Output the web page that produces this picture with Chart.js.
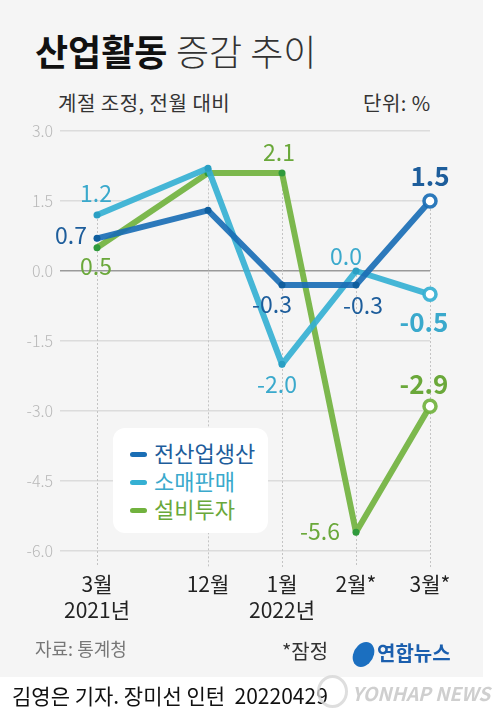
<!DOCTYPE html>
<html>
<head>
<meta charset="utf-8">
<script src="https://cdn.jsdelivr.net/npm/chart.js@4.4.1/dist/chart.umd.min.js"></script>
<style>
  body { margin: 0; background: #fff; font-family: "Noto Sans CJK KR", "Noto Sans", sans-serif; }
  #wrap { position: relative; width: 499px; height: 723px; overflow: hidden; }
  #panel { position: absolute; left: 0; top: 0; width: 483px; height: 677px; background: #f5f5f5; }
  #chart { position: absolute; left: 0; top: 0; }
  .txt { position: absolute; white-space: nowrap; line-height: 1; }
  #legend { position: absolute; left: 113px; top: 428px; width: 155px; height: 105px;
            background: #fff; border-radius: 12px; }
  .item { position: absolute; left: 17px; font-size: 22px; line-height: 1; }
  .mark { display: inline-block; width: 17px; height: 5px; border-radius: 3px; vertical-align: middle;
          margin-right: 7px; position: relative; top: -2px; }
</style>
</head>
<body>
<div id="wrap">
  <div id="panel"></div>
  <div class="txt" style="left:35px;top:32px;font-size:36px;font-weight:700;color:#111;">산업활동</div>
  <div class="txt" style="left:176px;top:32px;font-size:36px;font-weight:300;color:#333;">증감 추이</div>
  <div class="txt" style="left:58px;top:93px;font-size:20px;letter-spacing:0.5px;color:#333;">계절 조정, 전월 대비</div>
  <div class="txt" style="left:363px;top:93px;font-size:20px;letter-spacing:0.5px;color:#333;">단위: %</div>

  <canvas id="chart" width="499" height="723"></canvas>

  <div id="legend">
    <div class="item" style="top:13px;color:#1d5d9b;"><span class="mark" style="background:#1a6eb5"></span>전산업생산</div>
    <div class="item" style="top:41px;color:#3aa9cc;"><span class="mark" style="background:#35b0d3"></span>소매판매</div>
    <div class="item" style="top:69px;color:#6aa83a;"><span class="mark" style="background:#71b23e"></span>설비투자</div>
  </div>

  <div class="txt" style="left:35px;top:639px;font-size:18px;color:#777;">자료: 통계청</div>
  <div class="txt" style="left:282px;top:641px;font-size:20px;color:#333;">*잠정</div>
  <div class="txt" style="left:353px;top:642px;width:21px;height:25px;border-radius:50%;background:#1b6fc0;transform:skewX(-12deg);"></div>
  <div class="txt" style="left:377px;top:643px;font-size:20px;font-weight:700;color:#1b5fae;">연합뉴스</div>

  <div class="txt" style="left:12px;top:685px;font-size:21px;color:#111;">김영은 기자. 장미선 인턴&nbsp; 20220429</div>
  <div class="txt" style="left:317px;top:675px;width:25px;height:27px;border-radius:50%;border:3px solid #d6d6d6;opacity:0.8;"></div>
  <div class="txt" style="left:352px;top:683px;font-size:19px;font-weight:700;font-style:italic;color:#cfcfcf;">YONHAP NEWS</div>
</div>

<script>
// x positions follow the broken time axis of the original (Mar 2021 -> Dec 2021 gap)
const xPos = [0, 1.5, 2.5, 3.5, 4.5];
const months = [['3월', '2021년'], '12월', ['1월', '2022년'], '2월*', '3월*'];

const seriesNames = ['전산업생산', '소매판매', '설비투자'];
const production = [0.7, 1.3, -0.3, -0.3, 1.5];
const retail = [1.2, 2.2, -2.0, 0.0, -0.5];
const investment = [0.5, 2.1, 2.1, -5.6, -2.9];

const yTicks = [3.0, 1.5, 0.0, -1.5, -3.0, -4.5, -6.0];

// label offsets (px) relative to the point; null = no label
const labelOffsets = [
  [[-26, -3], null, [-10, 19], [7, 20], [0, -25]],
  [[-1, -22], null, [-5, 20], [-10, -15], [-6, 28]],
  [[-1, 19], null, [-3, -21], [-36, -1], [-6, -22]]
];

const lineColors = ['rgba(26,110,181,0.92)', 'rgba(53,176,211,0.92)', 'rgba(113,178,62,0.92)'];
const dotColors = ['#0f5e9e', '#2a9fc3', '#2f9a3c'];
const labelColors = ['#1d5d9b', '#3aa9cc', '#6aa83a'];
const FONT = '"Noto Sans CJK KR", "Noto Sans", sans-serif';

function makeSet(i, values) {
  const n = values.length;
  return {
    label: seriesNames[i],
    data: values.map((v, k) => ({ x: xPos[k], y: v })),
    borderColor: lineColors[i],
    borderWidth: 6,
    borderJoinStyle: 'round',
    borderCapStyle: 'round',
    tension: 0,
    clip: false,
    pointRadius: values.map((v, k) => k === n - 1 ? 6 : 3.5),
    pointBackgroundColor: values.map((v, k) => k === n - 1 ? '#fff' : dotColors[i]),
    pointBorderColor: values.map((v, k) => k === n - 1 ? lineColors[i] : dotColors[i]),
    pointBorderWidth: values.map((v, k) => k === n - 1 ? 3.5 : 0),
    pointHoverRadius: 0
  };
}

const dropLines = {
  id: 'dropLines',
  beforeDatasetsDraw(chart) {
    const ctx = chart.ctx;
    const bottom = chart.chartArea.bottom + 16;
    ctx.save();
    ctx.strokeStyle = '#c4c4c4';
    ctx.lineWidth = 1;
    ctx.setLineDash([2, 2]);
    xPos.forEach((x, k) => {
      let top = Infinity;
      chart.data.datasets.forEach((ds, i) => {
        const p = chart.getDatasetMeta(i).data[k];
        if (p && p.y < top) top = p.y;
      });
      const px = Math.round(chart.scales.x.getPixelForValue(x)) + 0.5;
      ctx.beginPath();
      ctx.moveTo(px, top);
      ctx.lineTo(px, bottom);
      ctx.stroke();
    });
    ctx.restore();
  }
};

const valueLabels = {
  id: 'valueLabels',
  afterDatasetsDraw(chart) {
    const ctx = chart.ctx;
    ctx.save();
    ctx.textAlign = 'center';
    ctx.textBaseline = 'middle';
    chart.data.datasets.forEach((ds, i) => {
      const meta = chart.getDatasetMeta(i);
      const n = ds.data.length;
      ds.data.forEach((d, k) => {
        const off = labelOffsets[i][k];
        if (!off) return;
        const p = meta.data[k];
        const last = k === n - 1;
        ctx.font = (last ? '700 26px ' : '400 23px ') + FONT;
        ctx.fillStyle = labelColors[i];
        ctx.fillText(d.y.toFixed(1), p.x + off[0], p.y + off[1]);
      });
    });
    ctx.restore();
  }
};

new Chart(document.getElementById('chart'), {
  type: 'line',
  data: {
    datasets: [makeSet(0, production), makeSet(1, retail), makeSet(2, investment)]
  },
  plugins: [dropLines, valueLabels],
  options: {
    responsive: false,
    devicePixelRatio: 1,
    animation: false,
    events: [],
    layout: { padding: { top: 131, right: 69, bottom: 92, left: 0 } },
    plugins: { legend: { display: false }, tooltip: { enabled: false } },
    scales: {
      x: {
        type: 'linear',
        min: -0.5,
        max: 4.5,
        afterBuildTicks(scale) { scale.ticks = xPos.map(v => ({ value: v })); },
        afterFit(scale) { scale.height = 80; },
        grid: { display: false, drawTicks: false },
        border: { display: false },
        ticks: {
          autoSkip: false,
          maxRotation: 0,
          padding: 20,
          color: '#222',
          font: { family: FONT, size: 21, lineHeight: '26px' },
          callback: (v) => months[xPos.indexOf(v)]
        }
      },
      y: {
        min: -6,
        max: 3,
        afterBuildTicks(scale) { scale.ticks = yTicks.map(v => ({ value: v })); },
        afterFit(scale) { scale.width = 60; },
        grid: {
          drawTicks: false,
          color: (c) => c.tick && c.tick.value === 0 ? '#9a9a9a' : '#dcdcdc',
          lineWidth: 1.5
        },
        border: { display: false },
        ticks: {
          padding: 7,
          color: '#b8b8b8',
          font: { family: FONT, size: 16, weight: 300 },
          callback: (v) => v.toFixed(1)
        }
      }
    }
  }
});
</script>
</body>
</html>
